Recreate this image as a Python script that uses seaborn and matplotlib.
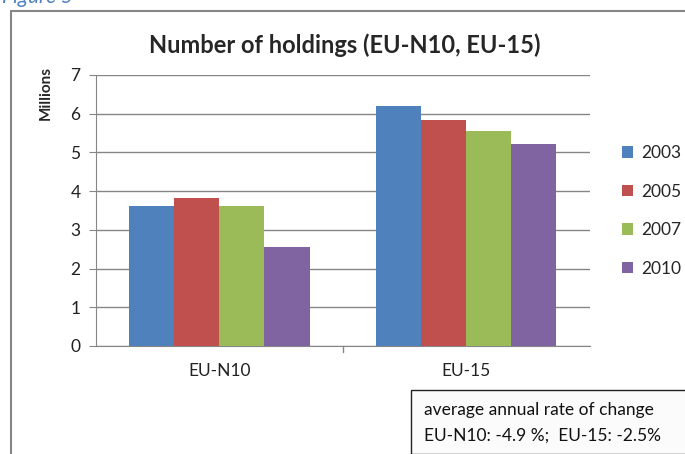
import matplotlib
matplotlib.use("Agg")
import matplotlib.pyplot as plt
import matplotlib.patches as mpatches
import pandas as pd
import seaborn as sns

# data (millions of holdings)
regions = ["EU-N10", "EU-15"]
years = ["2003", "2005", "2007", "2010"]
holdings_2003 = [3.62, 6.20]
holdings_2005 = [3.82, 5.83]
holdings_2007 = [3.62, 5.55]
holdings_2010 = [2.55, 5.21]
colors = ["#4f81bd", "#c0504d", "#9bbb59", "#8064a2"]

df = pd.DataFrame({
    "region": regions * 4,
    "year": [y for y in years for _ in regions],
    "value": holdings_2003 + holdings_2005 + holdings_2007 + holdings_2010,
})

sns.set_style("white")
plt.rcParams["font.family"] = ["Lato", "DejaVu Sans"]

fig = plt.figure(figsize=(6.85, 4.54), dpi=100)
ax = fig.add_axes([0.140, 0.238, 0.721, 0.597])

sns.barplot(data=df, x="region", y="value", hue="year", palette=colors,
            width=0.73, saturation=1, edgecolor="none", ax=ax, zorder=3)

ax.set_ylim(0, 7)
ax.set_xlim(-0.5, 1.5)
ax.set_yticks(range(0, 8))
ax.yaxis.grid(True, color="#868686", linewidth=1, zorder=0)
ax.tick_params(axis="y", length=5, color="#868686", labelsize=12.5, pad=6,
               labelcolor="#222222", left=True)
ax.tick_params(axis="x", length=0, labelsize=12.5, pad=12, labelcolor="#222222")
ax.set_xticks([0, 1])
ax.set_xticklabels(regions)
# middle tick on category axis
ax.plot([0.5, 0.5], [0, -0.15], color="#868686", lw=1, clip_on=False)

for s in ["top", "right"]:
    ax.spines[s].set_visible(False)
ax.spines["left"].set_color("#868686")
ax.spines["bottom"].set_color("#868686")
ax.set_xlabel("")
ax.set_ylabel("")

fig.text(46 / 685, 1 - 93 / 454, "Millions", rotation=90, fontsize=11,
         fontweight="bold", ha="center", va="center")

fig.text(0.503, 1 - 45 / 454, "Number of holdings (EU-N10, EU-15)",
         fontsize=17, fontweight="bold", ha="center", va="center")

ax.legend(loc="upper left", bbox_to_anchor=(622 / 685, 1 - 145 / 454),
          bbox_transform=fig.transFigure, frameon=False, fontsize=12.5,
          borderpad=0, borderaxespad=0,
          handlelength=0.65, handleheight=0.65, handletextpad=0.45,
          labelspacing=1.3)

# outer chart frame
fig.add_artist(plt.Line2D([11 / 685, 11 / 685], [1 - 11 / 454, 0.0],
                          color="#868686", lw=1.5))
fig.add_artist(plt.Line2D([11 / 685, 1.0], [1 - 11 / 454, 1 - 11 / 454],
                          color="#868686", lw=1.5))

# caption
fig.text(2 / 685, 1 - 3 / 454, "Figure 5", fontsize=15, style="italic",
         color="#4f81bd", ha="left", va="baseline")

# rate of change box
box = mpatches.Rectangle((411 / 685, 0.0), 0.5, (454 - 390) / 454,
                         transform=fig.transFigure, facecolor="#fbfbfb",
                         edgecolor="#222222", lw=1)
fig.add_artist(box)
fig.text(424 / 685, 1 - 410 / 454, "average annual rate of change",
         fontsize=12.5, ha="left", va="center", color="#111111")
fig.text(424 / 685, 1 - 436 / 454, "EU-N10: -4.9 %;  EU-15: -2.5%",
         fontsize=12.5, ha="left", va="center", color="#111111")

fig.savefig("out.png", dpi=100)
